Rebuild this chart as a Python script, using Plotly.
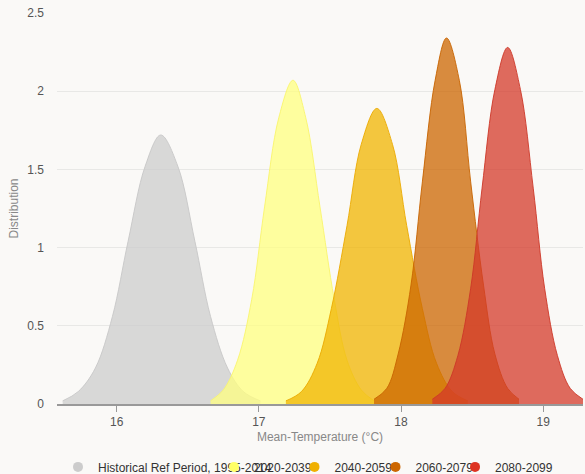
import plotly.graph_objects as go

series_names = ["Historical Ref Period, 1995-2014", "2020-2039", "2040-2059", "2060-2079", "2080-2099"]

hist_x = [15.62, 15.73, 15.85, 15.97, 16.08, 16.20, 16.31, 16.43, 16.55, 16.66, 16.78, 16.89, 17.01]
hist_y = [0.02, 0.08, 0.23, 0.56, 1.04, 1.52, 1.72, 1.52, 1.04, 0.56, 0.23, 0.08, 0.02]

p2020_x = [16.66, 16.75, 16.85, 16.95, 17.04, 17.14, 17.24, 17.33, 17.43, 17.53, 17.62, 17.72, 17.81]
p2020_y = [0.02, 0.09, 0.28, 0.67, 1.26, 1.83, 2.07, 1.83, 1.26, 0.67, 0.28, 0.09, 0.02]

p2040_x = [17.19, 17.30, 17.41, 17.51, 17.62, 17.72, 17.83, 17.94, 18.04, 18.15, 18.25, 18.36, 18.47]
p2040_y = [0.02, 0.08, 0.26, 0.61, 1.14, 1.66, 1.89, 1.66, 1.14, 0.61, 0.26, 0.08, 0.02]

p2060_x = [17.81, 17.90, 17.98, 18.07, 18.15, 18.24, 18.32, 18.41, 18.49, 18.58, 18.66, 18.75, 18.83]
p2060_y = [0.03, 0.10, 0.32, 0.76, 1.42, 2.07, 2.34, 2.07, 1.42, 0.76, 0.32, 0.10, 0.03]

p2080_x = [18.22, 18.31, 18.40, 18.49, 18.57, 18.66, 18.75, 18.84, 18.93, 19.01, 19.10, 19.19, 19.28]
p2080_y = [0.03, 0.10, 0.31, 0.74, 1.38, 2.01, 2.28, 2.01, 1.38, 0.74, 0.31, 0.10, 0.03]

x_ticks = [16, 17, 18, 19]
y_ticks = [0, 0.5, 1, 1.5, 2, 2.5]
y_tick_text = ["0", "0.5", "1", "1.5", "2", "2.5"]

fill_colors = ["rgba(204,204,204,0.75)", "rgba(255,255,128,0.75)", "rgba(240,180,0,0.75)",
               "rgba(204,102,0,0.75)", "rgba(212,58,42,0.75)"]
line_colors = ["rgba(200,200,200,0.9)", "rgba(250,245,110,0.9)", "rgba(235,170,0,0.9)",
               "rgba(200,100,0,0.9)", "rgba(205,55,40,0.9)"]
marker_colors = ["#cccccc", "#ffff66", "#f0b000", "#cc6600", "#dd3322"]
legend_ids = ["legend", "legend2", "legend3", "legend4", "legend5"]
legend_x = [0.0019, 0.2985, 0.4515, 0.6055, 0.7567]

xs = [hist_x, p2020_x, p2040_x, p2060_x, p2080_x]
ys = [hist_y, p2020_y, p2040_y, p2060_y, p2080_y]

FONT = "Liberation Sans, Arial, sans-serif"
fig = go.Figure()
for i in range(5):
    fig.add_trace(go.Scatter(
        x=xs[i], y=ys[i], mode="lines", fill="tozeroy",
        fillcolor=fill_colors[i], line=dict(color=line_colors[i], width=1, shape="spline", smoothing=1),
        showlegend=False, hoverinfo="skip"))
for i in range(5):
    fig.add_trace(go.Scatter(
        x=[None], y=[None], mode="markers", name=series_names[i],
        marker=dict(color=marker_colors[i], size=10),
        legend=legend_ids[i]))

leg_common = dict(orientation="h", xanchor="left", yref="container", y=0.015, yanchor="middle",
                  bgcolor="rgba(0,0,0,0)", font=dict(color="#333", size=12))

fig.update_layout(
    width=585, height=474,
    margin=dict(l=57, r=2, t=13, b=70),
    paper_bgcolor="#faf9f7", plot_bgcolor="#faf9f7",
    font=dict(family=FONT, size=12, color="#555"),
    xaxis=dict(range=[15.58, 19.28], tickvals=x_ticks, ticks="outside", ticklen=6,
               tickcolor="#999", showgrid=False, zeroline=False, showline=True,
               linecolor="#999", linewidth=1.5,
               title=dict(text="Mean-Temperature (°C)", font=dict(color="#888", size=12), standoff=4),
               tickfont=dict(color="#555", size=12)),
    yaxis=dict(range=[0, 2.5], tickvals=y_ticks, ticktext=y_tick_text, showgrid=True,
               gridcolor="#e8e8e6", gridwidth=1, zeroline=False, showline=False,
               ticklabelstandoff=12,
               title=dict(text="Distribution", font=dict(color="#888", size=12), standoff=6),
               tickfont=dict(color="#555", size=12)),
)
for lid, lx in zip(legend_ids, legend_x):
    fig.update_layout({lid: dict(x=lx, **leg_common)})

fig.write_html("out.html", config={"displayModeBar": False},
               post_script="document.body.style.margin='0';document.body.style.background='#faf9f7';")
